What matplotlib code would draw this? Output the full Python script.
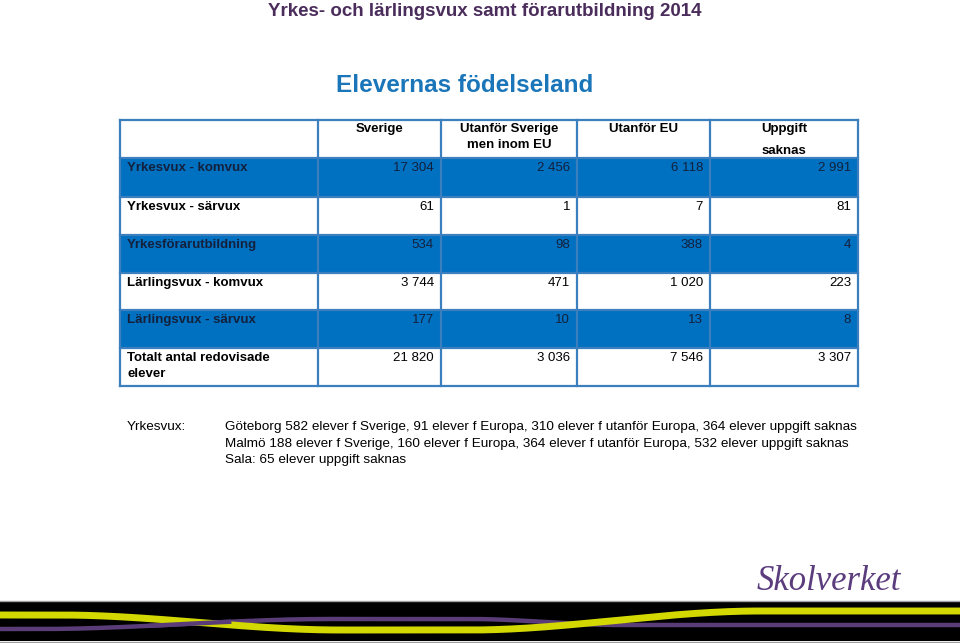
import matplotlib.pyplot as plt
import numpy as np

# table data
columns = ["Sverige", "Utanför Sverige\nmen inom EU", "Utanför EU", "Uppgift\nsaknas"]
rows = ["Yrkesvux - komvux", "Yrkesvux - särvux", "Yrkesförarutbildning",
        "Lärlingsvux - komvux", "Lärlingsvux - särvux", "Totalt antal redovisade\nelever"]
sverige = [17304, 61, 534, 3744, 177, 21820]
inom_eu = [2456, 1, 98, 471, 10, 3036]
utanfor_eu = [6118, 7, 388, 1020, 13, 7546]
saknas = [2991, 81, 4, 223, 8, 3307]

notes_label = "Yrkesvux:"
notes = ["Göteborg 582 elever f Sverige, 91 elever f Europa, 310 elever f utanför Europa, 364 elever uppgift saknas",
         "Malmö 188 elever f Sverige, 160 elever f Europa, 364 elever f utanför Europa, 532 elever uppgift saknas",
         "Sala: 65 elever uppgift saknas"]

W, H = 960, 643
fig = plt.figure(figsize=(W / 100, H / 100), dpi=100)
ax = fig.add_axes([0, 0, 1, 1])
ax.set_xlim(0, W)
ax.set_ylim(H, 0)
ax.axis('off')

sans = ['Liberation Sans', 'DejaVu Sans']
blue = '#0070c0'
border = '#3c7fbf'
dark = '#14213d'

ax.text(485, 12, "Yrkes- och lärlingsvux samt förarutbildning 2014", ha='center', va='center',
        fontsize=13.5, fontweight='bold', color='#4b2d5c', family=sans)
ax.text(465, 85, "Elevernas födelseland", ha='center', va='center',
        fontsize=17.5, fontweight='bold', color='#1b75b9', family=sans)

# table geometry (pixels)
col_x = [120, 318, 441, 577, 710, 858]
row_y = [120, 158, 197, 235, 273, 310, 348, 386]

ax.add_patch(plt.Rectangle((col_x[0], row_y[0]), col_x[-1] - col_x[0], row_y[-1] - row_y[0],
                           facecolor='white', edgecolor='none'))
for i in range(len(rows)):
    if i % 2 == 0 and i < 5:
        ax.add_patch(plt.Rectangle((col_x[0], row_y[i + 1]), col_x[-1] - col_x[0],
                                   row_y[i + 2] - row_y[i + 1], facecolor=blue, edgecolor='none'))

# grid lines
for x in col_x:
    ax.plot([x, x], [row_y[0], row_y[-1]], color=border, lw=1.6, solid_capstyle='projecting')
for y in row_y:
    ax.plot([col_x[0], col_x[-1]], [y, y], color=border, lw=1.6, solid_capstyle='projecting')

# header (last header has extra gap between its lines)
header_ls = [1.4, 1.4, 1.4, 2.1]
for j, c in enumerate(columns):
    cx = (col_x[j + 1] + col_x[j + 2]) / 2
    ax.text(cx, row_y[0] + 3, c, ha='center', va='top', fontsize=9.5, fontweight='bold',
            color='black', family=sans, linespacing=header_ls[j])

fmt = lambda v: f"{v:,}".replace(",", " ")
values = [sverige, inom_eu, utanfor_eu, saknas]
for i, r in enumerate(rows):
    top = row_y[i + 1]
    shaded = i % 2 == 0 and i < 5
    tc = dark if shaded else 'black'
    ax.text(col_x[0] + 7, top + 4, r, ha='left', va='top', fontsize=9.5, fontweight='bold',
            color=tc, family=sans, linespacing=1.45)
    for j, vals in enumerate(values):
        ax.text(col_x[j + 2] - 7, top + 4, fmt(vals[i]), ha='right', va='top', fontsize=9.5,
                color=tc, family=sans)

# notes
ax.text(127, 427, notes_label, ha='left', va='center', fontsize=9.7, color='black', family=sans)
for k, line in enumerate(notes):
    ax.text(225, 427 + k * 16.5, line, ha='left', va='center', fontsize=9.7, color='black', family=sans)

# logo
ax.text(829, 581, "Skolverket", ha='center', va='center', fontsize=25, style='italic',
        color='#5b3c7d', family=['Liberation Serif', 'DejaVu Serif'])

# footer band
ax.add_patch(plt.Rectangle((0, 601), W, 40, facecolor='black', edgecolor='none'))
ax.plot([0, W], [600.5, 600.5], color='#a0a0a0', lw=1)
ax.plot([0, W], [641.5, 641.5], color='#a0a0a0', lw=1)


def ease(x, x0, x1, y0, y1):
    t = np.clip((x - x0) / (x1 - x0), 0, 1)
    s = t * t * (3 - 2 * t)
    return y0 + (y1 - y0) * s


xs = np.linspace(0, W, 600)
yellow_y = np.where(xs < 470, ease(xs, 60, 340, 615, 630), ease(xs, 470, 760, 630, 611))
purple_y = np.where(xs < 470, ease(xs, 40, 330, 629, 619), ease(xs, 470, 620, 619, 625))
ax.plot(xs, purple_y, color='#5a3c78', lw=3.2, solid_capstyle='butt')
ax.plot(xs, yellow_y, color='#d2d800', lw=5, solid_capstyle='butt')
seg = (xs > 150) & (xs < 230)
ax.plot(xs[seg], purple_y[seg], color='#5a3c78', lw=3.2)

fig.savefig('out.png', dpi=100)
